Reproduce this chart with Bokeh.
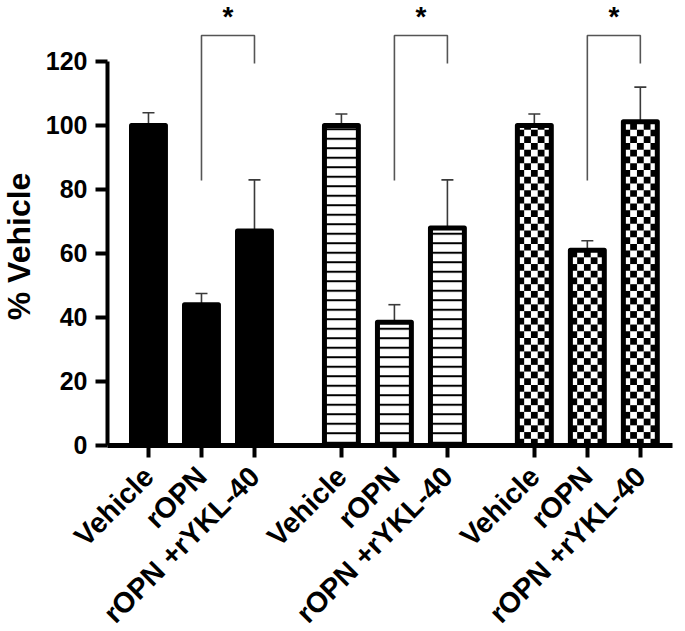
import math
from bokeh.plotting import figure
from bokeh.models import ColumnDataSource, FixedTicker, Range1d, Whisker, TeeHead
from bokeh.core.properties import value
from bokeh.embed import file_html
from bokeh.resources import INLINE

# ---- data ----
conditions = ["Vehicle", "rOPN", "rOPN +rYKL-40"]
solid_mean = [100, 44, 67]
solid_sem = [4, 3.5, 16]
lined_mean = [100, 38.5, 68]
lined_sem = [3.6, 5.5, 15]
checker_mean = [100, 61, 101.2]
checker_sem = [3.6, 3, 10.8]
y_ticks = [0, 20, 40, 60, 80, 100, 120]
sig_top = 128.1
sig_left_bottom = 82.8
sig_right_bottom = 119.4
sig_mark = "*"
y_title = "% Vehicle"

# ---- layout / style constants ----
FONT = "Liberation Sans"
GAP = 0.64            # extra space between groups (in bar slots)
BAR_W = 0.64
CELL_COLS = 5
CELL_H = 2.1
X0, X1 = -2.792, 10.132          # visible x range (frame spans whole canvas)
Y0, Y1 = -58.125, 139.06         # visible y range
AXIS_X = -0.774                  # where the y axis stands
AXIS_END = 9.887                 # where the x axis line ends
TITLE_X, TITLE_Y = -2.434, 62.2  # centre of the rotated y title

groups = [(solid_mean, solid_sem), (lined_mean, lined_sem), (checker_mean, checker_sem)]

p = figure(width=685, height=631,
           x_range=Range1d(X0, X1), y_range=Range1d(Y0, Y1),
           output_backend="svg", toolbar_location=None,
           min_border_left=0, min_border_right=0, min_border_top=0, min_border_bottom=0)
p.xgrid.visible = False
p.ygrid.visible = False
p.outline_line_color = None
p.background_fill_color = "white"
p.border_fill_color = "white"

all_pos = []
all_lab = []
for g, (means, sems) in enumerate(groups):
    xs = [g * (len(conditions) + GAP) + i for i in range(len(conditions))]
    all_pos += xs
    all_lab += conditions
    src = ColumnDataSource(dict(x=xs, top=means,
                                upper=[m + s for m, s in zip(means, sems)]))
    wh = Whisker(source=src, base="x", upper="upper", lower="top", dimension="height",
                 line_color="#3a3a3a", line_width=1.6,
                 upper_head=TeeHead(size=12, line_color="#3a3a3a", line_width=1.6),
                 lower_head=None, level="underlay")
    p.add_layout(wh)
    if g == 0:
        p.vbar(x="x", top="top", bottom=0, width=BAR_W, source=src, fill_color="black",
               line_color="black", line_width=5, line_join="round")
    elif g == 1:
        p.vbar(x="x", top="top", bottom=0, width=BAR_W, source=src, fill_color="white",
               hatch_pattern="horizontal_line", hatch_color="black",
               hatch_scale=9.5, hatch_weight=2,
               line_color="black", line_width=5, line_join="round")
    else:
        p.vbar(x="x", top="top", bottom=0, width=BAR_W, source=src, fill_color="white",
               line_color=None)
        cw = BAR_W / CELL_COLS
        L, R, B, T = [], [], [], []
        for x, m in zip(xs, means):
            nrows = int(math.ceil(m / CELL_H))
            for r in range(nrows):
                for c in range(CELL_COLS):
                    if (r + c) % 2 == 0:
                        left = x - BAR_W / 2 + c * cw
                        L.append(left)
                        R.append(left + cw)
                        B.append(r * CELL_H)
                        T.append(min((r + 1) * CELL_H, m))
        p.quad(left=L, right=R, bottom=B, top=T, fill_color="black", line_color=None)
        p.vbar(x="x", top="top", bottom=0, width=BAR_W, source=src, fill_color=None,
               line_color="black", line_width=5, line_join="round")
    # significance bracket between rOPN and rOPN +rYKL-40
    x1, x2 = xs[1], xs[2]
    p.line([x1, x1, x2, x2], [sig_left_bottom, sig_top, sig_top, sig_right_bottom],
           line_color="#555555", line_width=1.6)
    p.text(x=[(x1 + x2) / 2], y=[sig_top + 6.1], text=[sig_mark],
           text_align="center", text_baseline="middle",
           text_font=value(FONT), text_font_style="bold", text_font_size="28px",
           text_color="black")

# y title (rotated text)
p.text(x=[TITLE_X], y=[TITLE_Y], text=[y_title], angle=math.pi / 2,
       text_align="center", text_baseline="middle",
       text_font=value(FONT), text_font_style="bold", text_font_size="32px",
       text_color="black")

# y axis
ya = p.yaxis[0]
ya.fixed_location = AXIS_X
ya.ticker = FixedTicker(ticks=y_ticks)
ya.bounds = (0, 120)
ya.axis_line_width = 4
ya.axis_line_color = "black"
ya.major_tick_line_width = 4
ya.major_tick_line_color = "black"
ya.major_tick_out = 12
ya.major_tick_in = 0
ya.minor_tick_out = 0
ya.minor_tick_in = 0
ya.major_label_standoff = 8
ya.major_label_text_font = FONT
ya.major_label_text_font_style = "bold"
ya.major_label_text_font_size = "25px"
ya.major_label_text_color = "black"

# x axis
xa = p.xaxis[0]
xa.fixed_location = 0
xa.bounds = (AXIS_X, AXIS_END)
xa.ticker = FixedTicker(ticks=all_pos)
xa.major_label_overrides = {pos: lab for pos, lab in zip(all_pos, all_lab)}
xa.axis_line_width = 5
xa.axis_line_color = "black"
xa.major_tick_line_width = 4
xa.major_tick_line_color = "black"
xa.major_tick_out = 12
xa.major_tick_in = 0
xa.minor_tick_out = 0
xa.minor_tick_in = 0
xa.major_label_orientation = math.pi / 4
xa.major_label_standoff = 14
xa.major_label_text_font = FONT
xa.major_label_text_font_style = "bold"
xa.major_label_text_font_size = "28.5px"
xa.major_label_text_color = "black"

open("out.html", "w").write(file_html(p, INLINE))
